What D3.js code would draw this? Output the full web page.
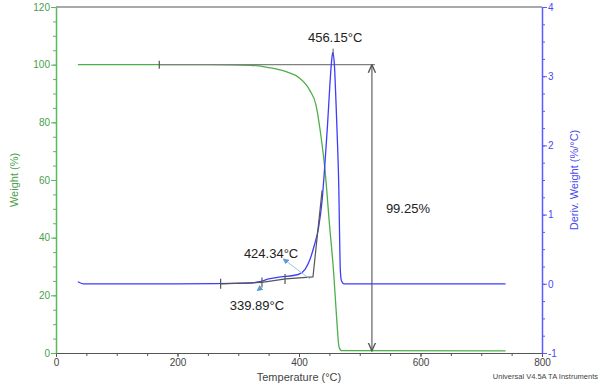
<!DOCTYPE html>
<html>
<head>
<meta charset="utf-8">
<script src="https://cdn.jsdelivr.net/npm/d3@7"></script>
<style>
  body { margin: 0; background: #fff; }
  svg { display: block; font-family: "Liberation Sans", Arial, sans-serif; }
</style>
</head>
<body>
<div id="chart"></div>
<script>
// TGA / DTG curves
const weightTemps = [36, 250, 320, 350, 380, 400, 418, 428, 435, 443, 450, 457, 462, 466, 470, 740]
const weightVals  = [100, 100, 99.8, 99, 97.5, 95.5, 91, 86, 77, 63, 45, 28, 12, 2, 0.8, 0.75]

const derivTemps = [36, 45, 200, 320, 335, 350, 370, 390, 400, 410, 418, 425, 432, 438, 442, 447, 451, 454, 455.5, 458, 461, 463.5, 465.5, 467, 468, 470, 474, 740]
const derivVals  = [0.03, 0.0, 0.0, 0.01, 0.03, 0.07, 0.1, 0.12, 0.14, 0.21, 0.35, 0.55, 0.8, 1.2, 1.65, 2.3, 2.9, 3.25, 3.34, 3.2, 2.6, 2.0, 1.4, 0.6, 0.2, 0.04, 0.0, 0.0]

// axis ticks
const xTicks = [0, 200, 400, 600, 800]
const yLeftTicks = [0, 20, 40, 60, 80, 100, 120]
const yRightTicks = [-1, 0, 1, 2, 3, 4]

// annotations (data units)
const stepLine = [170, 525]          // weight step line at 100 %
const stepArrowTemp = 520
const stepTop = 100, stepBottom = 0.75
const stepLabel = "99.25%"
const peakTemp = 456.15, peakVal = 3.34, peakLabel = "456.15°C"
const onsetBase = [[271, 0.0], [339, 0.02], [378, 0.07], [423, 0.1]]
const onsetTangent = [[423, 0.1], [438, 1.35]]
const onsetTicks = [[271, 0.0], [339, 0.02], [377, 0.07]]
const onsetLabels = ["424.34°C", "339.89°C"]

const margin = { top: 7, right: 58, bottom: 33, left: 56 }
const W = 600, H = 386
const width = W - margin.left - margin.right
const height = H - margin.top - margin.bottom

const green = "#4daf4a", greenAxis = "#5cb85c"
const blue = "#3d3dff", blueAxis = "#5a5aff"
const gray = "#808080"

const svg = d3.select("#chart").append("svg")
  .attr("width", W).attr("height", H)
const g = svg.append("g").attr("transform", `translate(${margin.left},${margin.top})`)

const x = d3.scaleLinear().domain([0, 800]).range([0, width])
const yL = d3.scaleLinear().domain([0, 120]).range([height, 0])
const yR = d3.scaleLinear().domain([-1, 4]).range([height, 0])

// top border
g.append("line").attr("x1", 0).attr("x2", width).attr("y1", 0).attr("y2", 0)
  .attr("stroke", "#555").attr("stroke-width", 1.2)

// bottom axis with minor ticks
const xMinor = d3.range(0, 801, 50)
g.append("g").attr("transform", `translate(0,${height})`)
  .call(d3.axisBottom(x).tickValues(xMinor).tickSize(3).tickFormat(""))
  .call(a => a.select(".domain").remove())
  .selectAll("line").attr("stroke", "#555")
const xAx = g.append("g").attr("transform", `translate(0,${height})`)
  .call(d3.axisBottom(x).tickValues(xTicks).tickSize(4).tickSizeOuter(0).tickFormat(d => String(d)))
xAx.select(".domain").attr("stroke", "#555").attr("stroke-width", 1.2)
xAx.selectAll("line").attr("stroke", "#555")
xAx.selectAll("text").attr("fill", "#444").attr("font-size", 10).attr("dy", "0.6em")

// left axis
g.append("g")
  .call(d3.axisLeft(yL).tickValues(d3.range(0, 121, 5)).tickSize(3).tickFormat(""))
  .call(a => a.select(".domain").remove())
  .selectAll("line").attr("stroke", greenAxis)
const yLAx = g.append("g")
  .call(d3.axisLeft(yL).tickValues(yLeftTicks).tickSize(5).tickSizeOuter(0).tickFormat(d => String(d)))
yLAx.select(".domain").attr("stroke", greenAxis).attr("stroke-width", 1.5)
yLAx.selectAll("line").attr("stroke", greenAxis)
yLAx.selectAll("text").attr("fill", "#4a9e4a").attr("font-size", 10).attr("x", -6)

// right axis
g.append("g").attr("transform", `translate(${width},0)`)
  .call(d3.axisRight(yR).tickValues(d3.range(-1, 4.01, 0.25)).tickSize(3).tickFormat(""))
  .call(a => a.select(".domain").remove())
  .selectAll("line").attr("stroke", blueAxis)
const yRAx = g.append("g").attr("transform", `translate(${width},0)`)
  .call(d3.axisRight(yR).tickValues(yRightTicks).tickSize(5).tickSizeOuter(0).tickFormat(d => String(d)))
yRAx.select(".domain").attr("stroke", blueAxis).attr("stroke-width", 1.5)
yRAx.selectAll("line").attr("stroke", blueAxis)
yRAx.selectAll("text").attr("fill", "#4a4aee").attr("font-size", 10).attr("x", 6)

// axis titles
svg.append("text").attr("transform", `translate(18,${margin.top + height / 2}) rotate(-90)`)
  .attr("text-anchor", "middle").attr("fill", "#4a9e4a").attr("font-size", 11)
  .text("Weight (%)")
svg.append("text").attr("transform", `translate(578,${margin.top + height / 2}) rotate(-90)`)
  .attr("text-anchor", "middle").attr("fill", "#4a4aee").attr("font-size", 11)
  .text("Deriv. Weight (%/°C)")
svg.append("text").attr("x", margin.left + width / 2).attr("y", 381)
  .attr("text-anchor", "middle").attr("fill", "#444").attr("font-size", 11)
  .text("Temperature (°C)")
svg.append("text").attr("x", 598).attr("y", 379)
  .attr("text-anchor", "end").attr("fill", "#444").attr("font-size", 7.5)
  .text("Universal V4.5A TA Instruments")

// curves
const weightData = weightTemps.map((t, i) => [t, weightVals[i]])
const derivData = derivTemps.map((t, i) => [t, derivVals[i]])

g.append("path").datum(weightData)
  .attr("fill", "none").attr("stroke", green).attr("stroke-width", 1.3)
  .attr("d", d3.line().curve(d3.curveMonotoneX).x(d => x(d[0])).y(d => yL(d[1])))

// step annotation
g.append("line")
  .attr("x1", x(stepLine[0])).attr("x2", x(stepLine[1]))
  .attr("y1", yL(stepTop)).attr("y2", yL(stepTop))
  .attr("stroke", gray).attr("stroke-width", 1.3)
g.append("line")
  .attr("x1", x(stepLine[0])).attr("x2", x(stepLine[0]))
  .attr("y1", yL(stepTop) - 4).attr("y2", yL(stepTop) + 4)
  .attr("stroke", "#555").attr("stroke-width", 1.2)

const defs = svg.append("defs")
defs.append("marker").attr("id", "ahead").attr("viewBox", "0 0 10 10")
  .attr("refX", 9).attr("refY", 5).attr("markerWidth", 6).attr("markerHeight", 8)
  .attr("orient", "auto-start-reverse")
  .append("path").attr("d", "M0,1 L9,5 L0,9").attr("fill", "none").attr("stroke", "#555").attr("stroke-width", 1.5)
defs.append("marker").attr("id", "bhead").attr("viewBox", "0 0 10 10")
  .attr("refX", 9).attr("refY", 5).attr("markerWidth", 6).attr("markerHeight", 6)
  .attr("markerUnits", "userSpaceOnUse")
  .attr("orient", "auto")
  .append("path").attr("d", "M0,0 L10,5 L0,10 Z").attr("fill", "#5b9bd5")

g.append("line")
  .attr("x1", x(stepArrowTemp)).attr("x2", x(stepArrowTemp))
  .attr("y1", yL(stepTop)).attr("y2", yL(stepBottom))
  .attr("stroke", gray).attr("stroke-width", 1.5)
  .attr("marker-start", "url(#ahead)").attr("marker-end", "url(#ahead)")

g.append("path").datum(derivData)
  .attr("fill", "none").attr("stroke", blue).attr("stroke-width", 1.3)
  .attr("d", d3.line().curve(d3.curveMonotoneX).x(d => x(d[0])).y(d => yR(d[1])))

// onset construction lines
const lineR = d3.line().x(d => x(d[0])).y(d => yR(d[1]))
g.append("path").datum(onsetBase.concat(onsetTangent.slice(1)))
  .attr("fill", "none").attr("stroke", "#555").attr("stroke-width", 1.2)
  .attr("d", lineR)
g.selectAll(".otick").data(onsetTicks).join("line")
  .attr("x1", d => x(d[0])).attr("x2", d => x(d[0]))
  .attr("y1", d => yR(d[1]) - 5).attr("y2", d => yR(d[1]) + 5)
  .attr("stroke", "#555").attr("stroke-width", 1.2)
g.append("line")
  .attr("x1", x(peakTemp)).attr("x2", x(peakTemp))
  .attr("y1", yR(peakVal) - 4).attr("y2", yR(peakVal) + 3)
  .attr("stroke", "#555").attr("stroke-width", 1)

// pointer arrows for onset labels
g.append("line")
  .attr("x1", x(418)).attr("y1", yR(0.07)).attr("x2", x(374)).attr("y2", yR(0.36))
  .attr("stroke", "#9cc3e6").attr("stroke-width", 1).attr("marker-end", "url(#bhead)")
g.append("line")
  .attr("x1", x(340)).attr("y1", yR(-0.04)).attr("x2", x(331)).attr("y2", yR(-0.1))
  .attr("stroke", "#9cc3e6").attr("stroke-width", 1).attr("marker-end", "url(#bhead)")

// labels
const lab = (tx, ty, s, anchor) => g.append("text")
  .attr("x", tx).attr("y", ty).attr("text-anchor", anchor || "start")
  .attr("fill", "#222").attr("font-size", 13).text(s)
lab(x(peakTemp) + 2, yR(peakVal) - 11, peakLabel, "middle")
lab(x(stepArrowTemp) + 14, yL(50) + 4, stepLabel)
lab(x(354), yR(0.37), onsetLabels[0], "middle")
lab(x(339) - 5, yR(-0.38), onsetLabels[1], "middle")
</script>
</body>
</html>
